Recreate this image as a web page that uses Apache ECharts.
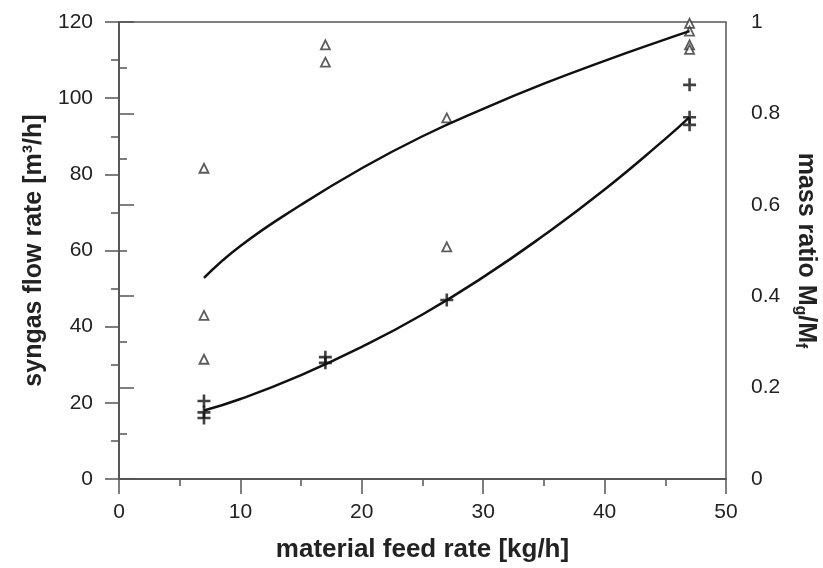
<!DOCTYPE html>
<html>
<head>
<meta charset="utf-8">
<script src="https://cdn.jsdelivr.net/npm/echarts@6/dist/echarts.min.js"></script>
<style>
    html, body { margin: 0; padding: 0; background: #fff; }
    #chart { width: 823px; height: 568px; }
</style>
</head>
<body>
<div id="chart"></div>
<script>
// measured points: mass ratio Mg/Mf (triangles)
var feedTri = [7, 7, 7, 17, 17, 27, 27, 47, 47, 47, 47];
var ratioTri = [0.68, 0.358, 0.262, 0.95, 0.912, 0.79, 0.508, 0.997, 0.98, 0.95, 0.94];

// measured points: syngas flow rate (crosses)
var feedPlus = [7, 7, 7, 17, 17, 27, 47, 47, 47];
var flowPlus = [20.5, 17.5, 16, 32, 30.5, 47, 103.5, 95, 93];

// fitted curves
var fitX = [7, 10, 15, 20, 25, 30, 35, 40, 45, 47];
var ratioFit = [0.44, 0.51, 0.60, 0.68, 0.75, 0.81, 0.865, 0.915, 0.962, 0.98];
var flowFit = [18, 21, 27.3, 34.7, 43.2, 53, 64, 76, 89.3, 95];

function pairs(xs, ys) {
    return xs.map(function (x, i) { return [x, ys[i]]; });
}

var chart = echarts.init(document.getElementById('chart'));

var axisColor = '#555';
var textColor = '#222';
var font = '"Liberation Sans", Arial, sans-serif';

var plusPath = 'path://M4,0H6V4H10V6H6V10H4V6H0V4H4Z';

var option = {
    animation: false,
    grid: {
        left: 119,
        right: 97,
        top: 22,
        bottom: 89,
        containLabel: false,
        outerBoundsMode: 'none',
        show: true,
        borderColor: axisColor,
        borderWidth: 1.5
    },
    xAxis: [
        {
            type: 'value',
            position: 'bottom',
            min: 0,
            max: 50,
            interval: 10,
            name: 'material feed rate [kg/h]',
            nameLocation: 'middle',
            nameGap: 58,
            nameTextStyle: { fontSize: 26, fontWeight: 'bold', color: textColor, fontFamily: font },
            axisLine: { lineStyle: { color: axisColor, width: 1.5 } },
            axisTick: { length: 15, lineStyle: { color: axisColor, width: 1.5 } },
            minorTick: { show: true, splitNumber: 2, length: 7, lineStyle: { color: axisColor, width: 1.5 } },
            axisLabel: { fontSize: 21, color: textColor, margin: 23, fontFamily: font },
            splitLine: { show: false }
        },
        {
            type: 'value',
            position: 'top',
            min: 0,
            max: 50,
            interval: 10,
            axisLine: { lineStyle: { color: axisColor, width: 1.5 } },
            axisTick: { inside: true, length: 4, lineStyle: { color: axisColor, width: 1.5 } },
            minorTick: { show: true, splitNumber: 2, length: 4, lineStyle: { color: axisColor, width: 1.5 } },
            axisLabel: { show: false },
            splitLine: { show: false }
        }
    ],
    yAxis: [
        {
            type: 'value',
            position: 'left',
            min: 0,
            max: 120,
            interval: 20,
            name: 'syngas flow rate [m³/h]',
            nameLocation: 'middle',
            nameGap: 70,
            nameTextStyle: { fontSize: 25, fontWeight: 'bold', color: textColor, fontFamily: font },
            axisLine: { lineStyle: { color: axisColor, width: 1.5 } },
            axisTick: { length: 14, lineStyle: { color: axisColor, width: 1.5 } },
            minorTick: { show: true, splitNumber: 2, length: 8, lineStyle: { color: axisColor, width: 1.5 } },
            axisLabel: { fontSize: 21, color: textColor, margin: 26, fontFamily: font },
            splitLine: { show: false }
        },
        {
            type: 'value',
            position: 'right',
            min: 0,
            max: 1,
            interval: 0.2,
            name: 'mass ratio M{sub|g}/M{sub|f}',
            nameLocation: 'middle',
            nameRotate: -90,
            nameGap: 66,
            nameTextStyle: {
                fontSize: 25, fontWeight: 'bold', color: textColor, fontFamily: font,
                rich: {
                    sub: { fontSize: 16, fontWeight: 'bold', color: textColor, fontFamily: font, padding: [12, 0, 0, 0] }
                }
            },
            axisLine: { lineStyle: { color: axisColor, width: 1.5 } },
            axisTick: { length: 15, lineStyle: { color: axisColor, width: 1.5 } },
            minorTick: { show: true, splitNumber: 2, length: 8, lineStyle: { color: axisColor, width: 1.5 } },
            axisLabel: { fontSize: 21, color: textColor, margin: 25, fontFamily: font },
            splitLine: { show: false }
        }
    ],
    series: [
        {
            name: 'ratio fit',
            type: 'line',
            yAxisIndex: 1,
            smooth: true,
            showSymbol: false,
            lineStyle: { color: '#111', width: 2.5 },
            data: pairs(fitX, ratioFit)
        },
        {
            name: 'flow fit',
            type: 'line',
            yAxisIndex: 0,
            smooth: true,
            showSymbol: false,
            lineStyle: { color: '#111', width: 2.5 },
            data: pairs(fitX, flowFit)
        },
        {
            name: 'mass ratio',
            type: 'scatter',
            yAxisIndex: 1,
            symbol: 'triangle',
            symbolSize: 9,
            itemStyle: { color: '#fff', borderColor: '#333', borderWidth: 1.8 },
            data: pairs(feedTri, ratioTri)
        },
        {
            name: 'syngas flow',
            type: 'scatter',
            yAxisIndex: 0,
            symbol: plusPath,
            symbolSize: 13,
            itemStyle: { color: '#111' },
            data: pairs(feedPlus, flowPlus)
        }
    ]
};

chart.setOption(option);
</script>
</body>
</html>
